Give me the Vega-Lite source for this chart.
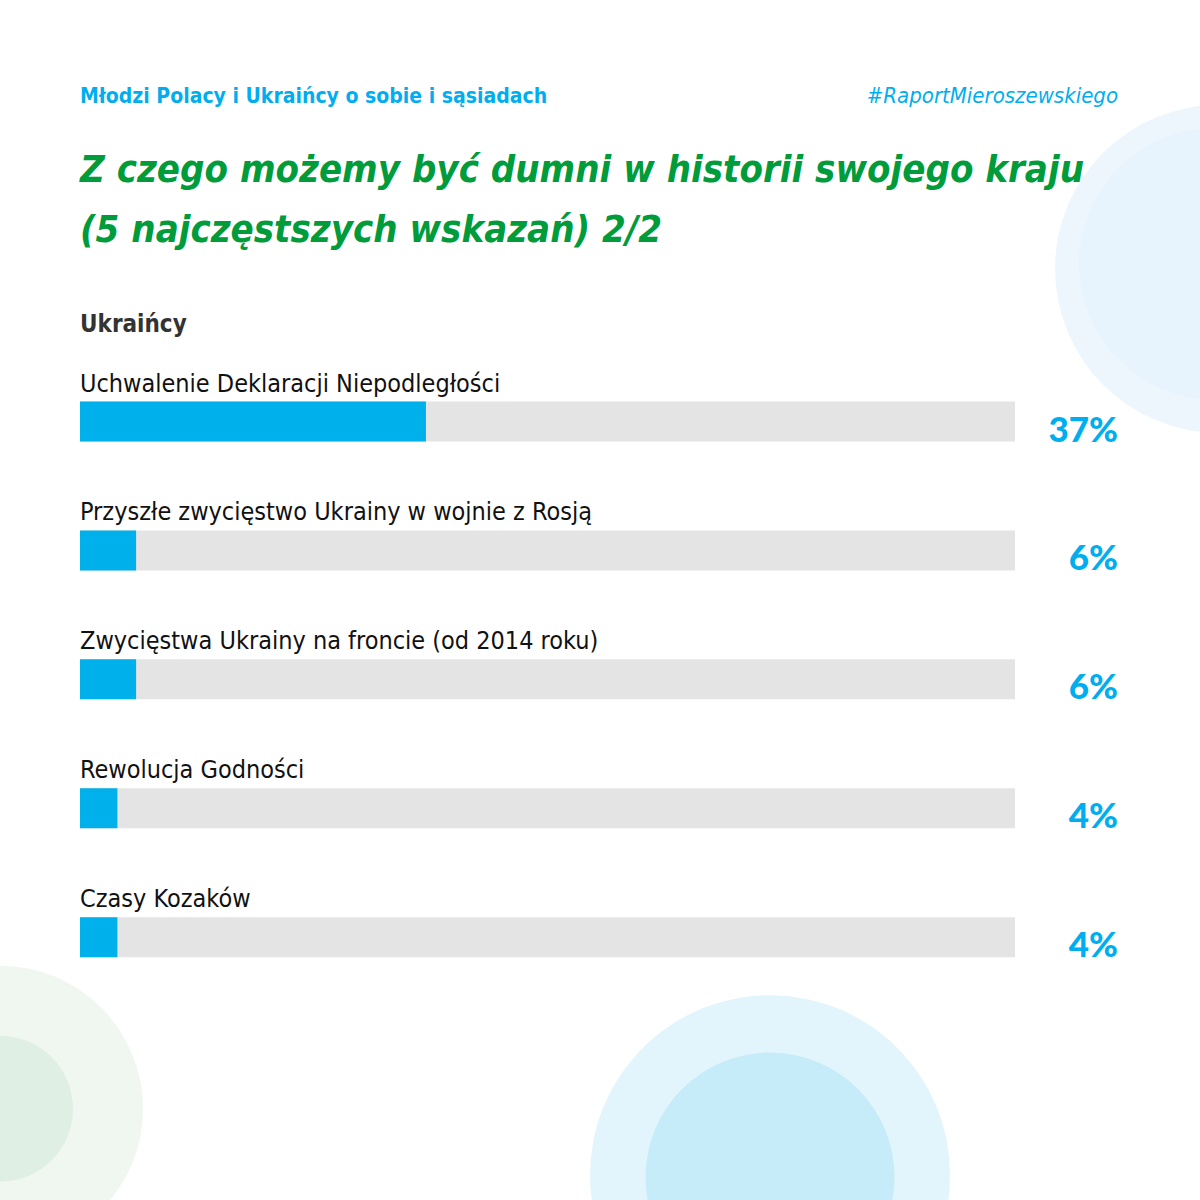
{
  "$schema": "https://vega.github.io/schema/vega-lite/v6.json",
  "width": 1200,
  "height": 1200,
  "autosize": {"type": "none"},
  "padding": 0,
  "background": "#ffffff",
  "config": {"view": {"stroke": null}},
  "data": {
    "values": [
      {"answer": "Uchwalenie Deklaracji Niepodległości", "share": 0.37, "rank": 1},
      {"answer": "Przyszłe zwycięstwo Ukrainy w wojnie z Rosją", "share": 0.06, "rank": 2},
      {"answer": "Zwycięstwa Ukrainy na froncie (od 2014 roku)", "share": 0.06, "rank": 3},
      {"answer": "Rewolucja Godności", "share": 0.04, "rank": 4},
      {"answer": "Czasy Kozaków", "share": 0.04, "rank": 5}
    ]
  },
  "layer": [
    {
      "data": {"values": [{}]},
      "mark": {"type": "point", "shape": "circle", "filled": true, "opacity": 1, "color": "#eef6fd", "size": 107584},
      "encoding": {
        "x": {"datum": 1.2182, "type": "quantitative", "scale": {"domain": [-0.085561, 1.197861], "nice": false, "zero": false}, "axis": null},
        "y": {"datum": -0.1846, "type": "quantitative", "scale": {"domain": [-2.2308, 7], "reverse": true, "nice": false, "zero": false}, "axis": null}
      }
    },
    {
      "data": {"values": [{}]},
      "mark": {"type": "point", "shape": "circle", "filled": true, "opacity": 1, "color": "#e7f3fd", "size": 73984},
      "encoding": {
        "x": {"datum": 1.2139, "type": "quantitative", "scale": {"domain": [-0.085561, 1.197861], "nice": false, "zero": false}, "axis": null},
        "y": {"datum": -0.2231, "type": "quantitative", "scale": {"domain": [-2.2308, 7], "reverse": true, "nice": false, "zero": false}, "axis": null}
      }
    },
    {
      "data": {"values": [{}]},
      "mark": {"type": "point", "shape": "circle", "filled": true, "opacity": 1, "color": "#f0f6f0", "size": 81796},
      "encoding": {
        "x": {"datum": -0.08556, "type": "quantitative", "scale": {"domain": [-0.085561, 1.197861], "nice": false, "zero": false}, "axis": null},
        "y": {"datum": 6.3308, "type": "quantitative", "scale": {"domain": [-2.2308, 7], "reverse": true, "nice": false, "zero": false}, "axis": null}
      }
    },
    {
      "data": {"values": [{}]},
      "mark": {"type": "point", "shape": "circle", "filled": true, "opacity": 1, "color": "#e0efe3", "size": 21316},
      "encoding": {
        "x": {"datum": -0.08556, "type": "quantitative", "scale": {"domain": [-0.085561, 1.197861], "nice": false, "zero": false}, "axis": null},
        "y": {"datum": 6.3308, "type": "quantitative", "scale": {"domain": [-2.2308, 7], "reverse": true, "nice": false, "zero": false}, "axis": null}
      }
    },
    {
      "data": {"values": [{}]},
      "mark": {"type": "point", "shape": "circle", "filled": true, "opacity": 1, "color": "#e3f5fc", "size": 129600},
      "encoding": {
        "x": {"datum": 0.738, "type": "quantitative", "scale": {"domain": [-0.085561, 1.197861], "nice": false, "zero": false}, "axis": null},
        "y": {"datum": 6.8462, "type": "quantitative", "scale": {"domain": [-2.2308, 7], "reverse": true, "nice": false, "zero": false}, "axis": null}
      }
    },
    {
      "data": {"values": [{}]},
      "mark": {"type": "point", "shape": "circle", "filled": true, "opacity": 1, "color": "#c7ecf9", "size": 62001},
      "encoding": {
        "x": {"datum": 0.738, "type": "quantitative", "scale": {"domain": [-0.085561, 1.197861], "nice": false, "zero": false}, "axis": null},
        "y": {"datum": 6.8615, "type": "quantitative", "scale": {"domain": [-2.2308, 7], "reverse": true, "nice": false, "zero": false}, "axis": null}
      }
    },
    {
      "data": {"values": [{}]},
      "mark": {"type": "text", "text": "Młodzi Polacy i Ukraińcy o sobie i sąsiadach", "align": "left", "baseline": "alphabetic", "font": "DejaVu Sans Condensed", "fontSize": 21, "fontWeight": "bold", "color": "#00aeef"},
      "encoding": {
        "x": {"datum": 0, "type": "quantitative", "scale": {"domain": [-0.085561, 1.197861], "nice": false, "zero": false}, "axis": null},
        "y": {"datum": -1.4692, "type": "quantitative", "scale": {"domain": [-2.2308, 7], "reverse": true, "nice": false, "zero": false}, "axis": null}
      }
    },
    {
      "data": {"values": [{}]},
      "mark": {"type": "text", "text": "#RaportMieroszewskiego", "align": "right", "baseline": "alphabetic", "font": "DejaVu Sans Condensed", "fontSize": 22, "fontStyle": "italic", "fontWeight": 500, "color": "#00aeef"},
      "encoding": {
        "x": {"datum": 1.11016, "type": "quantitative", "scale": {"domain": [-0.085561, 1.197861], "nice": false, "zero": false}, "axis": null},
        "y": {"datum": -1.4692, "type": "quantitative", "scale": {"domain": [-2.2308, 7], "reverse": true, "nice": false, "zero": false}, "axis": null}
      }
    },
    {
      "data": {"values": [{}]},
      "mark": {"type": "text", "text": ["Z czego możemy być dumni w historii swojego kraju", "(5 najczęstszych wskazań) 2/2"], "lineHeight": 60, "align": "left", "baseline": "alphabetic", "font": "DejaVu Sans Condensed", "fontSize": 38, "fontWeight": "bold", "fontStyle": "italic", "color": "#009b3a"},
      "encoding": {
        "x": {"datum": 0, "type": "quantitative", "scale": {"domain": [-0.085561, 1.197861], "nice": false, "zero": false}, "axis": null},
        "y": {"datum": -0.8615, "type": "quantitative", "scale": {"domain": [-2.2308, 7], "reverse": true, "nice": false, "zero": false}, "axis": null}
      }
    },
    {
      "data": {"values": [{}]},
      "mark": {"type": "text", "text": "Ukraińcy", "align": "left", "baseline": "alphabetic", "font": "DejaVu Sans Condensed", "fontSize": 24, "fontWeight": "bold", "color": "#333333"},
      "encoding": {
        "x": {"datum": 0, "type": "quantitative", "scale": {"domain": [-0.085561, 1.197861], "nice": false, "zero": false}, "axis": null},
        "y": {"datum": 0.3077, "type": "quantitative", "scale": {"domain": [-2.2308, 7], "reverse": true, "nice": false, "zero": false}, "axis": null}
      }
    },
    {
      "mark": {"type": "bar", "orient": "horizontal", "height": 40, "color": "#e4e4e4"},
      "encoding": {
        "x": {"datum": 1, "type": "quantitative", "scale": {"domain": [-0.085561, 1.197861], "nice": false, "zero": false}, "axis": null},
        "x2": {"datum": 0},
        "y": {"field": "rank", "type": "quantitative", "scale": {"domain": [-2.2308, 7], "reverse": true, "nice": false, "zero": false}, "axis": null}
      }
    },
    {
      "mark": {"type": "bar", "orient": "horizontal", "height": 40, "color": "#00b0ea"},
      "encoding": {
        "x": {"field": "share", "type": "quantitative", "scale": {"domain": [-0.085561, 1.197861], "nice": false, "zero": false}, "axis": null},
        "x2": {"datum": 0},
        "y": {"field": "rank", "type": "quantitative", "scale": {"domain": [-2.2308, 7], "reverse": true, "nice": false, "zero": false}, "axis": null},
        "tooltip": [{"field": "answer", "type": "nominal"}, {"field": "share", "type": "quantitative", "format": ".0%"}]
      }
    },
    {
      "mark": {"type": "text", "align": "left", "baseline": "alphabetic", "dy": -30, "font": "DejaVu Sans Condensed", "fontSize": 25, "color": "#111111"},
      "encoding": {
        "x": {"datum": 0, "type": "quantitative", "scale": {"domain": [-0.085561, 1.197861], "nice": false, "zero": false}, "axis": null},
        "y": {"field": "rank", "type": "quantitative", "scale": {"domain": [-2.2308, 7], "reverse": true, "nice": false, "zero": false}, "axis": null},
        "text": {"field": "answer", "type": "nominal"}
      }
    },
    {
      "mark": {"type": "text", "align": "right", "baseline": "alphabetic", "dy": 20, "font": "Lato", "fontSize": 35, "fontWeight": 900, "color": "#00aeef"},
      "encoding": {
        "x": {"datum": 1.11016, "type": "quantitative", "scale": {"domain": [-0.085561, 1.197861], "nice": false, "zero": false}, "axis": null},
        "y": {"field": "rank", "type": "quantitative", "scale": {"domain": [-2.2308, 7], "reverse": true, "nice": false, "zero": false}, "axis": null},
        "text": {"field": "share", "type": "quantitative", "format": ".0%"}
      }
    }
  ]
}
